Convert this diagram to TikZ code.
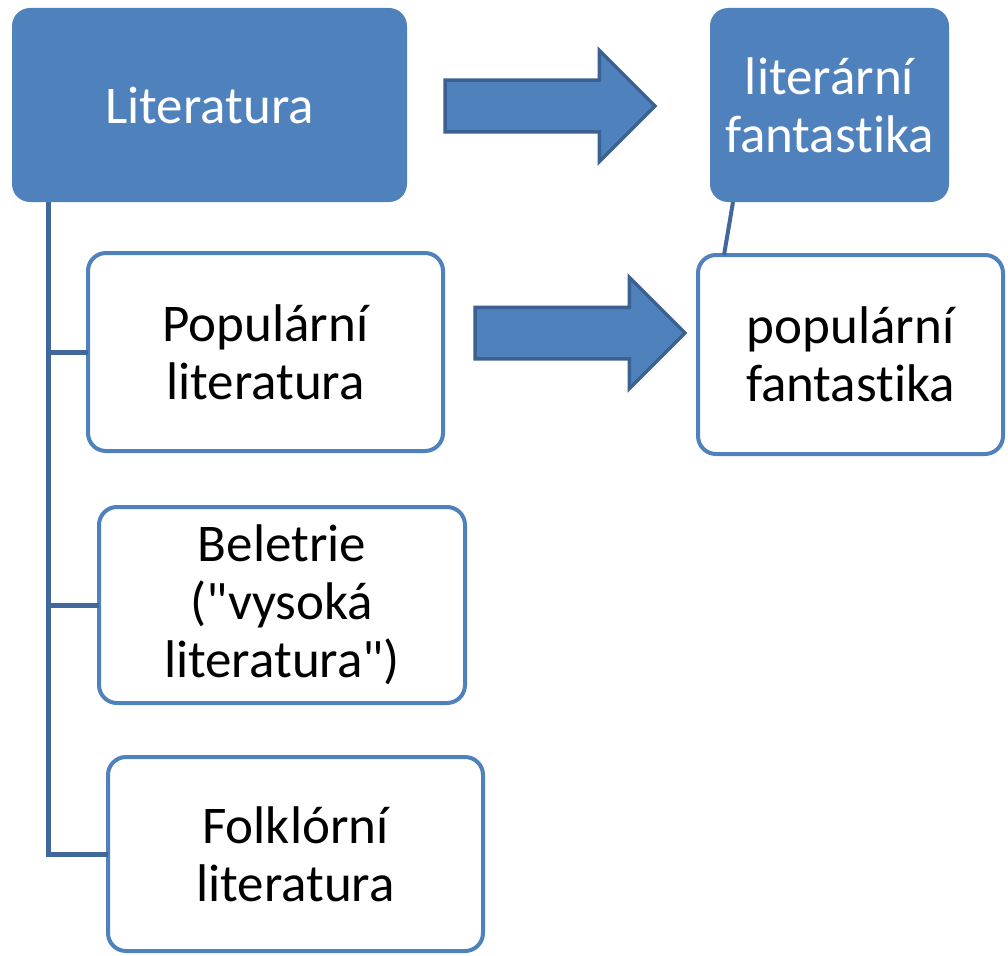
\documentclass[tikz,border=0pt]{standalone}
\usepackage{fontspec}
\setmainfont{Carlito}[Ligatures={TeXOff,CommonOff}]
\usetikzlibrary{positioning,shapes.arrows}
\definecolor{accent}{HTML}{4F81BD}
\definecolor{accentdark}{HTML}{3A6192}
\definecolor{linkline}{HTML}{41689A}

\begin{document}
\begin{tikzpicture}[x=1pt,y=-1pt,outer sep=0pt,
  boxA/.style={
    fill=accent,
    rounded corners=18pt,
    font={\fontsize{53}{58}\selectfont\color{white}},
    align=center,
    inner sep=0pt,
    },
  boxB/.style={boxA,fill=white,draw=accent,line width=4pt,
    font={\fontsize{53}{58}\selectfont\color{black}}},
  bigarrow/.style={single arrow,fill=accent,draw=accentdark,line width=3.5pt,
    minimum height=210pt,minimum width=108pt,inner xsep=0pt,inner ysep=24pt,
    single arrow head extend=30pt,anchor=tail},
  treeline/.style={draw=linkline,line width=5pt},
  ]
  \useasboundingbox (0,0) rectangle (1008,955);

  \node[boxA, minimum width=395pt, minimum height=194pt] (lit) at (209.5,105) {Literatura};
  \node[boxA, minimum width=239pt, minimum height=194pt] (litfan) at (829.5,105) {literární\\fantastika};

  \node[boxB, minimum width=355pt, minimum height=198pt] (pop) at (265.5,352) {Populární\\literatura};
  \node[boxB, minimum width=305pt, minimum height=199pt] (popfan) at (850.5,354.5) {populární\\fantastika};
  \node[boxB, minimum width=366pt, minimum height=196pt] (bel) at (282,605) {Beletrie\\("vysoká\\literatura")};
  \node[boxB, minimum width=375pt, minimum height=194pt] (folk) at (295.5,854) {Folklórní\\literatura};

  \node[bigarrow] (arrA) at (445,106) {};
  \node[bigarrow] (arrB) at (475,333) {};

  % hierarchy
  \coordinate (trunk) at (48,202);
  \draw[treeline] (trunk) |- (pop.west);
  \draw[treeline] (trunk) |- (bel.west);
  \draw[treeline] (trunk) |- (folk.west);
  \draw[treeline,line width=4pt] ([xshift=23pt]litfan.south west) -- ([xshift=26pt]popfan.north west);

\end{tikzpicture}
\end{document}
